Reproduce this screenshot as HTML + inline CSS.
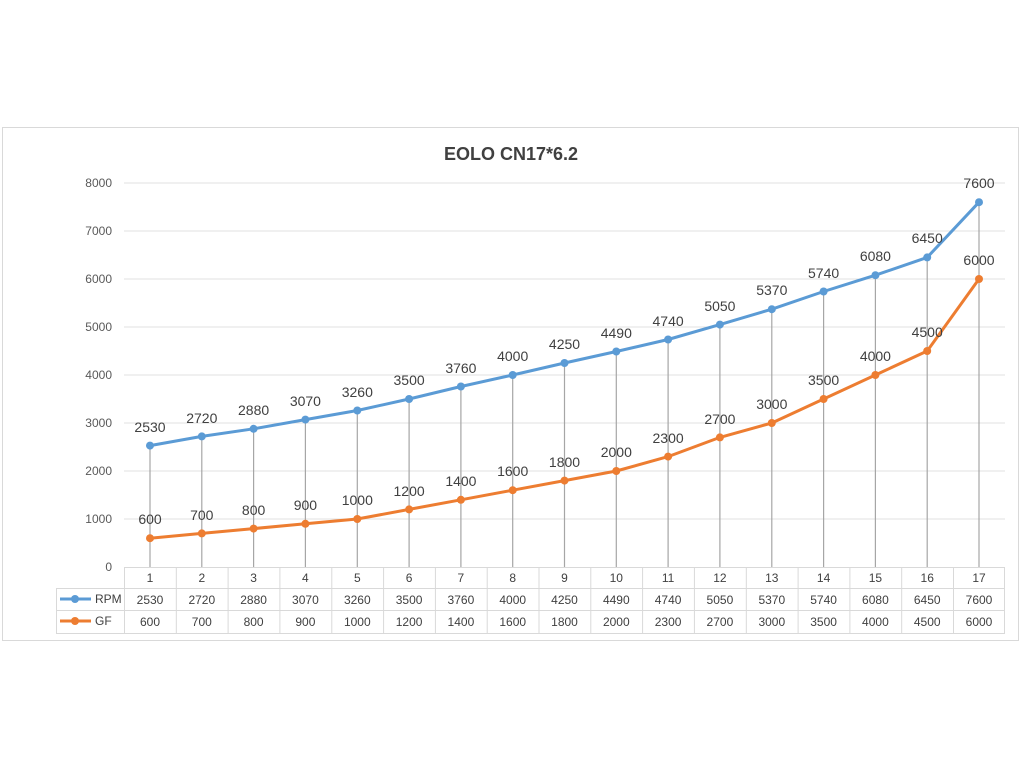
<!DOCTYPE html>
<html><head><meta charset="utf-8"><style>
html,body{margin:0;padding:0;background:#fff;width:1024px;height:768px;overflow:hidden}
svg{display:block;font-family:"Liberation Sans",sans-serif}
</style></head><body>
<svg width="1024" height="768" viewBox="0 0 1024 768">
<rect x="2.5" y="127.5" width="1016" height="513" fill="#fff" stroke="#d9d9d9"/>
<text x="511" y="160" text-anchor="middle" font-size="18" font-weight="bold" fill="#404040">EOLO CN17*6.2</text>
<g stroke="#e0e0e0" stroke-width="1">
<line x1="124" y1="519" x2="1005" y2="519"/><line x1="124" y1="471" x2="1005" y2="471"/>
<line x1="124" y1="423" x2="1005" y2="423"/><line x1="124" y1="375" x2="1005" y2="375"/>
<line x1="124" y1="327" x2="1005" y2="327"/><line x1="124" y1="279" x2="1005" y2="279"/>
<line x1="124" y1="231" x2="1005" y2="231"/><line x1="124" y1="183" x2="1005" y2="183"/>
</g>
<g font-size="12" fill="#595959" text-anchor="end">
<text x="112" y="571">0</text><text x="112" y="523">1000</text><text x="112" y="475">2000</text>
<text x="112" y="427">3000</text><text x="112" y="379">4000</text><text x="112" y="331">5000</text>
<text x="112" y="283">6000</text><text x="112" y="235">7000</text><text x="112" y="187">8000</text>
</g>
<g stroke="#a6a6a6" stroke-width="1.2">
<line x1="150" y1="445.6" x2="150" y2="567"/><line x1="201.8" y1="436.4" x2="201.8" y2="567"/>
<line x1="253.6" y1="428.8" x2="253.6" y2="567"/><line x1="305.4" y1="419.6" x2="305.4" y2="567"/>
<line x1="357.3" y1="410.5" x2="357.3" y2="567"/><line x1="409.1" y1="399" x2="409.1" y2="567"/>
<line x1="460.9" y1="386.5" x2="460.9" y2="567"/><line x1="512.7" y1="375" x2="512.7" y2="567"/>
<line x1="564.5" y1="363" x2="564.5" y2="567"/><line x1="616.3" y1="351.5" x2="616.3" y2="567"/>
<line x1="668.1" y1="339.5" x2="668.1" y2="567"/><line x1="719.9" y1="324.6" x2="719.9" y2="567"/>
<line x1="771.8" y1="309.2" x2="771.8" y2="567"/><line x1="823.6" y1="291.5" x2="823.6" y2="567"/>
<line x1="875.4" y1="275.2" x2="875.4" y2="567"/><line x1="927.2" y1="257.4" x2="927.2" y2="567"/>
<line x1="979" y1="202.2" x2="979" y2="567"/>
</g>
<polyline fill="none" stroke="#5b9bd5" stroke-width="3" stroke-linejoin="round" points="150,445.6 201.8,436.4 253.6,428.8 305.4,419.6 357.3,410.5 409.1,399 460.9,386.5 512.7,375 564.5,363 616.3,351.5 668.1,339.5 719.9,324.6 771.8,309.2 823.6,291.5 875.4,275.2 927.2,257.4 979,202.2"/>
<polyline fill="none" stroke="#ed7d31" stroke-width="3" stroke-linejoin="round" points="150,538.2 201.8,533.4 253.6,528.6 305.4,523.8 357.3,519 409.1,509.4 460.9,499.8 512.7,490.2 564.5,480.6 616.3,471 668.1,456.6 719.9,437.4 771.8,423 823.6,399 875.4,375 927.2,351 979,279"/>
<g fill="#5b9bd5">
<circle cx="150" cy="445.6" r="4"/><circle cx="201.8" cy="436.4" r="4"/><circle cx="253.6" cy="428.8" r="4"/><circle cx="305.4" cy="419.6" r="4"/><circle cx="357.3" cy="410.5" r="4"/><circle cx="409.1" cy="399" r="4"/><circle cx="460.9" cy="386.5" r="4"/><circle cx="512.7" cy="375" r="4"/><circle cx="564.5" cy="363" r="4"/><circle cx="616.3" cy="351.5" r="4"/><circle cx="668.1" cy="339.5" r="4"/><circle cx="719.9" cy="324.6" r="4"/><circle cx="771.8" cy="309.2" r="4"/><circle cx="823.6" cy="291.5" r="4"/><circle cx="875.4" cy="275.2" r="4"/><circle cx="927.2" cy="257.4" r="4"/><circle cx="979" cy="202.2" r="4"/>
</g>
<g fill="#ed7d31">
<circle cx="150" cy="538.2" r="4"/><circle cx="201.8" cy="533.4" r="4"/><circle cx="253.6" cy="528.6" r="4"/><circle cx="305.4" cy="523.8" r="4"/><circle cx="357.3" cy="519" r="4"/><circle cx="409.1" cy="509.4" r="4"/><circle cx="460.9" cy="499.8" r="4"/><circle cx="512.7" cy="490.2" r="4"/><circle cx="564.5" cy="480.6" r="4"/><circle cx="616.3" cy="471" r="4"/><circle cx="668.1" cy="456.6" r="4"/><circle cx="719.9" cy="437.4" r="4"/><circle cx="771.8" cy="423" r="4"/><circle cx="823.6" cy="399" r="4"/><circle cx="875.4" cy="375" r="4"/><circle cx="927.2" cy="351" r="4"/><circle cx="979" cy="279" r="4"/>
</g>
<g font-size="14" fill="#404040" text-anchor="middle">
<text x="150" y="432">2530</text><text x="201.8" y="423">2720</text><text x="253.6" y="415">2880</text><text x="305.4" y="406">3070</text><text x="357.3" y="397">3260</text><text x="409.1" y="385">3500</text><text x="460.9" y="373">3760</text><text x="512.7" y="361">4000</text><text x="564.5" y="349">4250</text><text x="616.3" y="338">4490</text><text x="668.1" y="326">4740</text><text x="719.9" y="311">5050</text><text x="771.8" y="295">5370</text><text x="823.6" y="278">5740</text><text x="875.4" y="261">6080</text><text x="927.2" y="243">6450</text><text x="979" y="188">7600</text>
<text x="150" y="524">600</text><text x="201.8" y="520">700</text><text x="253.6" y="515">800</text><text x="305.4" y="510">900</text><text x="357.3" y="505">1000</text><text x="409.1" y="496">1200</text><text x="460.9" y="486">1400</text><text x="512.7" y="476">1600</text><text x="564.5" y="467">1800</text><text x="616.3" y="457">2000</text><text x="668.1" y="443">2300</text><text x="719.9" y="424">2700</text><text x="771.8" y="409">3000</text><text x="823.6" y="385">3500</text><text x="875.4" y="361">4000</text><text x="927.2" y="337">4500</text><text x="979" y="265">6000</text>
</g>
<g stroke="#d9d9d9" stroke-width="1" fill="none">
<line x1="124" y1="567.5" x2="1005" y2="567.5"/>
<line x1="56" y1="588.5" x2="1005" y2="588.5"/>
<line x1="56" y1="610.5" x2="1005" y2="610.5"/>
<line x1="56" y1="633.5" x2="1005" y2="633.5"/>
<line x1="56.5" y1="588" x2="56.5" y2="634"/>
<line x1="124.5" y1="567" x2="124.5" y2="634"/><line x1="176.3" y1="567" x2="176.3" y2="634"/><line x1="228.1" y1="567" x2="228.1" y2="634"/><line x1="279.9" y1="567" x2="279.9" y2="634"/><line x1="331.8" y1="567" x2="331.8" y2="634"/><line x1="383.6" y1="567" x2="383.6" y2="634"/><line x1="435.4" y1="567" x2="435.4" y2="634"/><line x1="487.2" y1="567" x2="487.2" y2="634"/><line x1="539" y1="567" x2="539" y2="634"/><line x1="590.8" y1="567" x2="590.8" y2="634"/><line x1="642.6" y1="567" x2="642.6" y2="634"/><line x1="694.4" y1="567" x2="694.4" y2="634"/><line x1="746.3" y1="567" x2="746.3" y2="634"/><line x1="798.1" y1="567" x2="798.1" y2="634"/><line x1="849.9" y1="567" x2="849.9" y2="634"/><line x1="901.7" y1="567" x2="901.7" y2="634"/><line x1="953.5" y1="567" x2="953.5" y2="634"/><line x1="1004.5" y1="567" x2="1004.5" y2="634"/>
</g>
<line x1="60" y1="599" x2="91" y2="599" stroke="#5b9bd5" stroke-width="3"/><circle cx="75" cy="599" r="4" fill="#5b9bd5"/>
<line x1="60" y1="621" x2="91" y2="621" stroke="#ed7d31" stroke-width="3"/><circle cx="75" cy="621" r="4" fill="#ed7d31"/>
<g font-size="12" fill="#404040">
<text x="95" y="603">RPM</text><text x="95" y="625">GF</text>
</g>
<g font-size="12" fill="#404040" text-anchor="middle">
<text x="150" y="582">1</text><text x="201.8" y="582">2</text><text x="253.6" y="582">3</text><text x="305.4" y="582">4</text><text x="357.3" y="582">5</text><text x="409.1" y="582">6</text><text x="460.9" y="582">7</text><text x="512.7" y="582">8</text><text x="564.5" y="582">9</text><text x="616.3" y="582">10</text><text x="668.1" y="582">11</text><text x="719.9" y="582">12</text><text x="771.8" y="582">13</text><text x="823.6" y="582">14</text><text x="875.4" y="582">15</text><text x="927.2" y="582">16</text><text x="979" y="582">17</text>
<text x="150" y="604">2530</text><text x="201.8" y="604">2720</text><text x="253.6" y="604">2880</text><text x="305.4" y="604">3070</text><text x="357.3" y="604">3260</text><text x="409.1" y="604">3500</text><text x="460.9" y="604">3760</text><text x="512.7" y="604">4000</text><text x="564.5" y="604">4250</text><text x="616.3" y="604">4490</text><text x="668.1" y="604">4740</text><text x="719.9" y="604">5050</text><text x="771.8" y="604">5370</text><text x="823.6" y="604">5740</text><text x="875.4" y="604">6080</text><text x="927.2" y="604">6450</text><text x="979" y="604">7600</text>
<text x="150" y="626">600</text><text x="201.8" y="626">700</text><text x="253.6" y="626">800</text><text x="305.4" y="626">900</text><text x="357.3" y="626">1000</text><text x="409.1" y="626">1200</text><text x="460.9" y="626">1400</text><text x="512.7" y="626">1600</text><text x="564.5" y="626">1800</text><text x="616.3" y="626">2000</text><text x="668.1" y="626">2300</text><text x="719.9" y="626">2700</text><text x="771.8" y="626">3000</text><text x="823.6" y="626">3500</text><text x="875.4" y="626">4000</text><text x="927.2" y="626">4500</text><text x="979" y="626">6000</text>
</g>
</svg>
</body></html>
